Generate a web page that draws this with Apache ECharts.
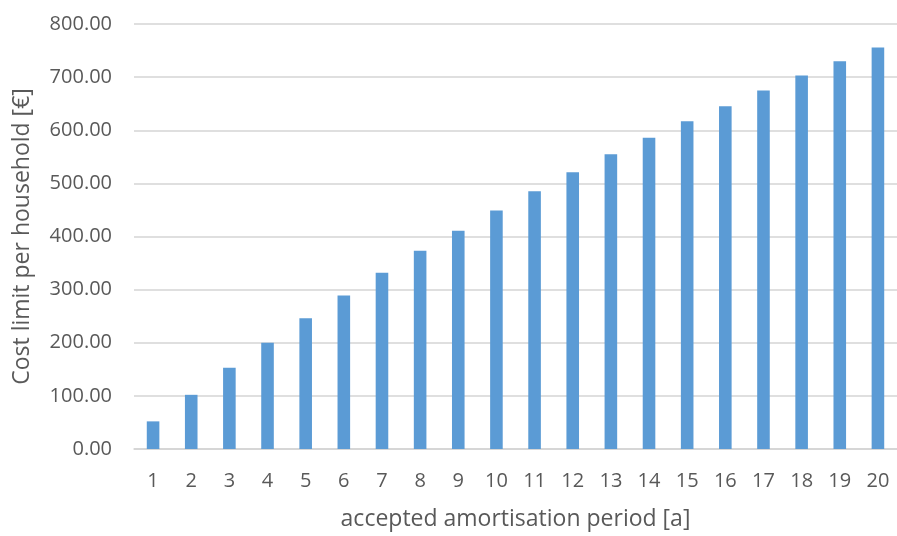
<!DOCTYPE html>
<html>
<head>
<meta charset="utf-8">
<script src="https://cdn.jsdelivr.net/npm/echarts@6/dist/echarts.min.js"></script>
<style>html,body{margin:0;padding:0;background:#fff}#c{width:897px;height:536px}</style>
</head>
<body>
<div id="c"></div>
<script>
const categories = ['1','2','3','4','5','6','7','8','9','10','11','12','13','14','15','16','17','18','19','20'];
const costLimit = [52, 102, 153, 200, 246, 289, 332, 373, 411, 449, 485, 521, 555, 586, 617, 645, 675, 703, 730, 756];
const yTicks = { min: 0, max: 800, interval: 100 };

const chart = echarts.init(document.getElementById('c'), null, { renderer: 'canvas' });
const font = '"Open Sans", sans-serif';
chart.setOption({
  animation: false,
  grid: { left: 134, right: -5, top: 24, bottom: 84, containLabel: false },
  xAxis: {
    type: 'category',
    data: categories,
    name: 'accepted amortisation period [a]',
    nameLocation: 'middle',
    nameGap: 59,
    nameTextStyle: { fontFamily: font, fontSize: 23, color: '#595959' },
    axisLine: { lineStyle: { color: '#d4d4d4', width: 1.5 } },
    axisTick: { show: false },
    axisLabel: { fontFamily: font, fontSize: 20, color: '#595959', margin: 22 }
  },
  yAxis: {
    type: 'value',
    min: yTicks.min, max: yTicks.max, interval: yTicks.interval,
    name: 'Cost limit per household [€]',
    nameLocation: 'middle',
    nameGap: 100,
    nameTextStyle: { fontFamily: font, fontSize: 23, color: '#595959' },
    axisLine: { show: false },
    axisTick: { show: false },
    splitLine: { lineStyle: { color: '#d4d4d4', width: 1.5 } },
    axisLabel: { fontFamily: font, fontSize: 20, color: '#595959', margin: 22,
      formatter: v => v.toFixed(2) }
  },
  series: [{
    type: 'bar',
    data: costLimit,
    barWidth: '33%',
    itemStyle: { color: '#5B9BD5' }
  }]
});
</script>
</body>
</html>
